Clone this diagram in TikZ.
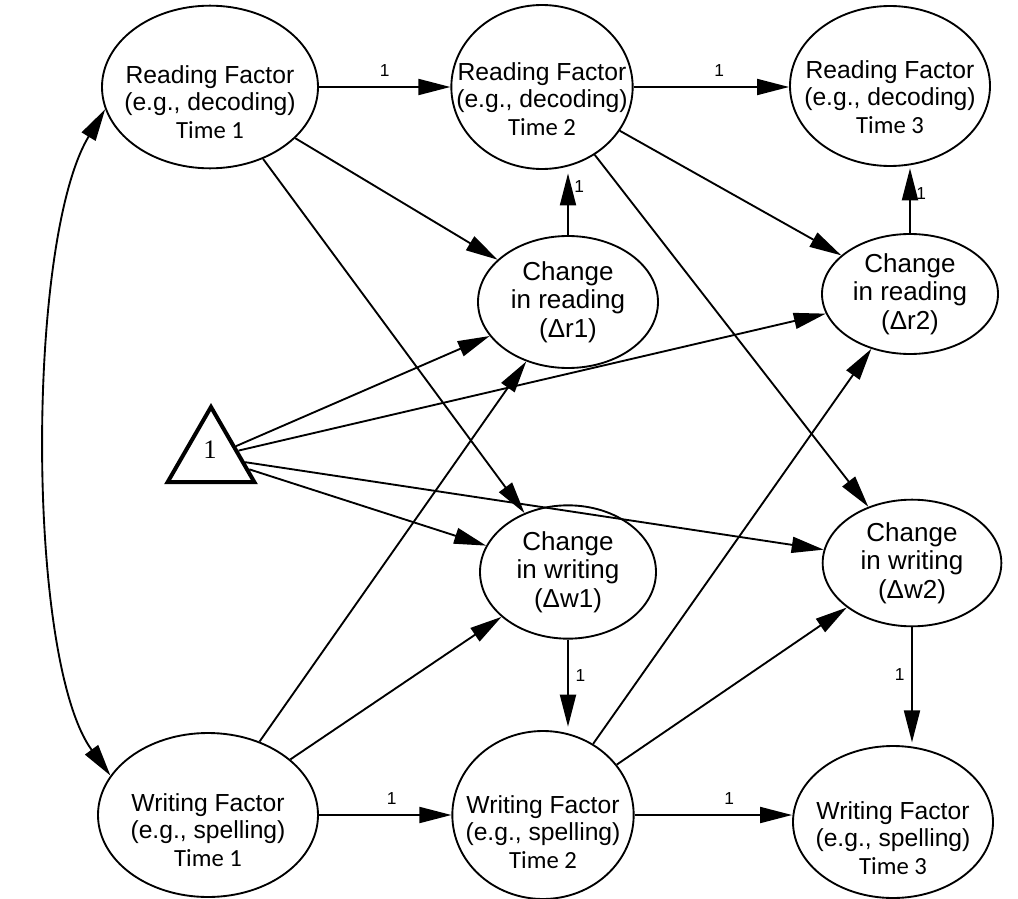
\documentclass[tikz,border=0pt]{standalone}
\usepackage{fontspec}
\setmainfont{Liberation Sans}
\newfontfamily\timefont{Carlito}
\newfontfamily\serifone{Liberation Serif}
\usetikzlibrary{shapes.geometric,arrows.meta}

\begin{document}
\begin{tikzpicture}[x=0.75pt,y=-0.75pt,
  lat/.style={draw, ellipse, line width=1.4pt, inner sep=0pt},
  txt/.style={align=center, font=\fontsize{18.5}{20.5}\selectfont, inner sep=0pt},
  chg/.style={align=center, font=\fontsize{19.5}{21.5}\selectfont, inner sep=0pt},
  tip/.tip={Triangle[length=24pt,width=12pt]},
  conn/.style={line width=1.4pt, -tip},
  one/.style={font=\fontsize{13}{13}\selectfont, inner sep=0pt},
]
% canvas
\path[fill=white] (0,0) rectangle (1018,899);
\useasboundingbox (0,0) rectangle (1018,899);

% reading factors
\node[lat, minimum width=162pt, minimum height=122pt] (r1) at (210,87) {};
\node[txt] (r1t) at (210,102) {Reading Factor\\(e.g., decoding)\\{\timefont Time 1}};
\node[lat, minimum width=136pt, minimum height=123pt] (r2) at (542,87) {};
\node[txt] (r2t) at (542,99) {Reading Factor\\(e.g., decoding)\\{\timefont Time 2}};
\node[lat, minimum width=150pt, minimum height=120pt] (r3) at (890,86) {};
\node[txt] (r3t) at (890,97) {Reading Factor\\(e.g., decoding)\\{\timefont Time 3}};

% writing factors
\node[lat, minimum width=165pt, minimum height=123pt] (w1) at (208,815) {};
\node[txt] (w1t) at (208,830) {Writing Factor\\(e.g., spelling)\\{\timefont Time 1}};
\node[lat, minimum width=136pt, minimum height=126pt] (w2) at (543,815) {};
\node[txt] (w2t) at (543,832) {Writing Factor\\(e.g., spelling)\\{\timefont Time 2}};
\node[lat, minimum width=150pt, minimum height=114pt] (w3) at (893,822) {};
\node[txt] (w3t) at (893,838) {Writing Factor\\(e.g., spelling)\\{\timefont Time 3}};

% change scores
\node[lat, chg, minimum width=135pt, minimum height=99pt] (dr1) at (568,302) {Change\\in reading\\(Δr1)};
\node[lat, chg, minimum width=132pt, minimum height=90pt] (dr2) at (910,294) {Change\\in reading\\(Δr2)};
\node[lat, chg, minimum width=132pt, minimum height=100pt] (dw1) at (568,572) {Change\\in writing\\(Δw1)};
\node[lat, chg, minimum width=134pt, minimum height=95pt] (dw2) at (912,563) {Change\\in writing\\(Δw2)};

% constant
\node[draw, regular polygon, regular polygon sides=3, minimum size=75pt,
      line width=3pt, inner sep=0pt] (tri) at (211,457) {};
\node[font=\serifone\fontsize{20}{20}\selectfont, inner sep=0pt] (trit) at (210,450) {1};

% covariance between the time-1 factors
\draw[line width=1.4pt, tip-tip] (r1.192) .. controls (26,240) and (26,660) .. (w1.158);

% autoregressive paths
\draw[conn] (r1.east) -- node[one, above=7pt, pos=0.5] (l1) {1} (r1.east -| r2.west);
\draw[conn] (r2.east) -- node[one, above=7pt, pos=0.55] (l2) {1} (r2.east -| r3.west);
\draw[conn] (w1.east) -- node[one, above=7pt, pos=0.55] (l3) {1} (w1.east -| w2.west);
\draw[conn] (w2.east) -- node[one, above=7pt, pos=0.6] (l4) {1} (w2.east -| w3.west);

% change loadings
\draw[conn, shorten >=2.6pt] (dr1.north) -- node[one, right=4pt, pos=0.75] (l5) {1} (dr1.north |- r2.south);
\draw[conn, shorten >=1pt] (dr2.north) -- node[one, right=4pt, pos=0.6] (l6) {1} (dr2.north |- r3.south);
\draw[conn, shorten >=2.5pt] (dw1.south) -- node[one, right=5pt, pos=0.4] (l7) {1} (dw1.south |- w2.north);
\draw[conn, shorten >=2pt] (dw2.south) -- node[one, left=5pt, pos=0.4] (l8) {1} (dw2.south |- w3.north);

% cross-lagged and proportional effects
\draw[conn] (r1) -- (dr1);
\draw[conn] (r1) -- (dw1);
\draw[conn] (r2) -- (dr2);
\draw[conn] (r2) -- (dw2);
\draw[conn] (w1) -- (dr1);
\draw[conn] (w1) -- (dw1);
\draw[conn] (w2) -- (dr2);
\draw[conn] (w2) -- (dw2);

% intercepts
\draw[conn] (tri) -- (dr1);
\draw[conn] (tri) -- (dr2);
\draw[conn] (tri) -- (dw1);
\draw[conn] (tri) -- (dw2);
\end{tikzpicture}
\end{document}
